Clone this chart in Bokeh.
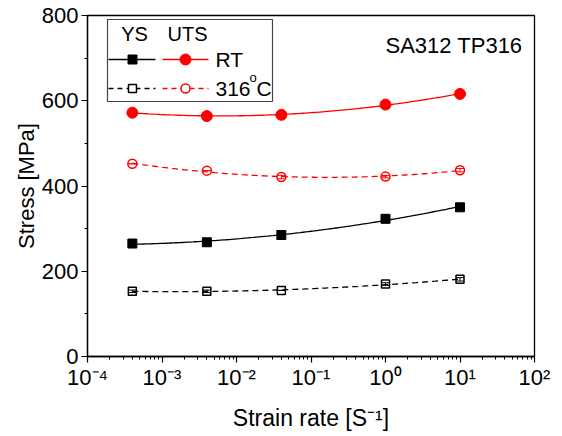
import numpy as np
from bokeh.plotting import figure
from bokeh.models import FixedTicker, Label, ColumnDataSource, Whisker, TeeHead
from bokeh.embed import file_html
from bokeh.resources import INLINE

# ---------------- data ----------------
strain_rate = [4e-4, 4e-3, 4e-2, 1.0, 10.0]
uts_rt = [572, 564, 567, 591, 616]
uts_316 = [452, 436, 421, 422, 437]
ys_rt = [265, 268, 285, 323, 350]
ys_316 = [153, 153, 155, 170, 181]
err_ys_rt = [6, 3, 3, 8, 3]
err_ys_316 = [3, 3, 0, 3, 4]
err_uts_316 = [0, 0, 4, 3, 4]
x_tick_exponents = [-4, -3, -2, -1, 0, 1, 2]
x_tick_labels = ["10⁻⁴", "10⁻³", "10⁻²", "10⁻¹", "10⁰", "10¹", "10²"]
y_ticks = [0, 200, 400, 600, 800]
y_minor = [100, 300, 500, 700]
title_text = "SA312 TP316"
x_label = "Strain rate [S⁻¹]"
y_label = "Stress [MPa]"

FONT = "Liberation Sans"
RED = "#ff0000"

p = figure(width=562, height=436, x_axis_type="log",
           x_range=(1e-4, 1e2), y_range=(0, 800),
           output_backend="svg", toolbar_location=None,
           min_border_left=87, min_border_right=28,
           min_border_top=15, min_border_bottom=80)
p.grid.visible = False
p.outline_line_color = "black"
p.outline_line_width = 1.3
p.background_fill_color = "white"
p.border_fill_color = "white"

# axes
p.xaxis.ticker = FixedTicker(ticks=[10.0 ** e for e in x_tick_exponents],
                             minor_ticks=[k * 10.0 ** e for e in range(-4, 2) for k in range(2, 10)])
p.xaxis.major_label_overrides = {10.0 ** e: lab for e, lab in zip(x_tick_exponents, x_tick_labels)}
p.yaxis.ticker = FixedTicker(ticks=y_ticks, minor_ticks=y_minor)
for ax in (p.xaxis[0], p.yaxis[0]):
    ax.axis_line_color = "black"
    ax.axis_line_width = 1.3
    ax.major_tick_in = 0
    ax.major_tick_out = 6
    ax.minor_tick_in = 0
    ax.minor_tick_out = 3
    ax.major_tick_line_width = 1.2
    ax.minor_tick_line_width = 1.0
    ax.major_tick_line_color = "black"
    ax.minor_tick_line_color = "black"
    ax.major_label_text_font = FONT
    ax.major_label_text_font_size = "22px"
    ax.major_label_text_color = "black"
    ax.axis_label_text_font = FONT
    ax.axis_label_text_font_style = "normal"
    ax.axis_label_text_color = "black"
p.yaxis.major_label_standoff = 3
p.xaxis.major_label_standoff = 2
p.xaxis.axis_label = x_label
p.yaxis.axis_label = y_label
p.xaxis.axis_label_text_font_size = "23px"
p.yaxis.axis_label_text_font_size = "22px"
p.xaxis.axis_label_standoff = 12
p.yaxis.axis_label_standoff = 0

# fitted curves (quadratic in log10 of strain rate)
lx = np.log10(strain_rate)
grid = np.linspace(lx[0], lx[-1], 120)


def fit(vals):
    c = np.polyfit(lx, vals, 2)
    return 10 ** grid, np.polyval(c, grid)


for vals, col, dash in [(uts_rt, RED, "solid"), (uts_316, RED, "6 4"),
                        (ys_rt, "black", "solid"), (ys_316, "black", "6 4")]:
    fx, fy = fit(vals)
    p.line(fx, fy, line_color=col, line_width=1.3, line_dash=dash)

# error bars
for vals, err, col in [(ys_rt, err_ys_rt, "black"), (ys_316, err_ys_316, "black"),
                       (uts_316, err_uts_316, RED)]:
    src = ColumnDataSource(dict(x=strain_rate,
                                lo=[v - e for v, e in zip(vals, err)],
                                hi=[v + e for v, e in zip(vals, err)]))
    p.add_layout(Whisker(source=src, base="x", lower="lo", upper="hi",
                         line_color=col, line_width=1,
                         lower_head=TeeHead(size=8, line_color=col, line_width=1),
                         upper_head=TeeHead(size=8, line_color=col, line_width=1)))

# markers
p.scatter(strain_rate, uts_rt, marker="circle", size=11, fill_color=RED, line_color=RED)
p.scatter(strain_rate, uts_316, marker="circle", size=9, fill_color=None, line_color=RED, line_width=1.5)
p.scatter(strain_rate, ys_rt, marker="square", size=9, fill_color="black", line_color="black")
p.scatter(strain_rate, ys_316, marker="square", size=8, fill_color=None, line_color="black", line_width=1.5)

# title text inside plot
p.add_layout(Label(x=1e2, y=730, text=title_text, text_font=FONT, text_font_size="22px",
                   text_align="right", text_baseline="alphabetic", x_offset=-12, text_color="black"))


# ---------------- legend (drawn in data space) ----------------
def xd(px):
    return 10 ** (-4 + (px - 87) * 6 / 447)


def yd(py):
    return (356 - py) * 800 / 341


p.quad(left=[xd(107)], right=[xd(272)], top=[yd(19)], bottom=[yd(101)],
       fill_color="white", line_color="#444444", line_width=1.2)
p.add_layout(Label(x=xd(134), y=yd(33), text="YS", text_font=FONT, text_font_size="20px",
                   text_align="center", text_baseline="middle", text_color="black"))
p.add_layout(Label(x=xd(187), y=yd(33), text="UTS", text_font=FONT, text_font_size="20px",
                   text_align="center", text_baseline="middle", text_color="black"))
# row RT
p.line([xd(108), xd(155)], [yd(59), yd(59)], line_color="black", line_width=1.3)
p.scatter([xd(132)], [yd(59)], marker="square", size=9, fill_color="black", line_color="black")
p.line([xd(162), xd(208)], [yd(59), yd(59)], line_color=RED, line_width=1.3)
p.scatter([xd(185)], [yd(59)], marker="circle", size=11, fill_color=RED, line_color=RED)
p.add_layout(Label(x=xd(215), y=yd(59), text="RT", text_font=FONT, text_font_size="21px",
                   text_align="left", text_baseline="middle", text_color="black"))
# row 316C
p.line([xd(108), xd(155)], [yd(88), yd(88)], line_color="black", line_width=1.3, line_dash="5 4")
p.scatter([xd(132)], [yd(88)], marker="square", size=8, fill_color="white", line_color="black", line_width=1.5)
p.line([xd(162), xd(208)], [yd(88), yd(88)], line_color=RED, line_width=1.3, line_dash="5 4")
p.scatter([xd(185)], [yd(88)], marker="circle", size=9, fill_color="white", line_color=RED, line_width=1.5)
p.add_layout(Label(x=xd(215), y=yd(88), text="316", text_font=FONT, text_font_size="21px",
                   text_align="left", text_baseline="middle", text_color="black"))
p.add_layout(Label(x=xd(249), y=yd(84), text="o", text_font=FONT, text_font_size="13px",
                   text_align="left", text_baseline="bottom", text_color="black"))
p.add_layout(Label(x=xd(256), y=yd(88), text="C", text_font=FONT, text_font_size="21px",
                   text_align="left", text_baseline="middle", text_color="black"))

open("out.html", "w").write(file_html(p, INLINE))
